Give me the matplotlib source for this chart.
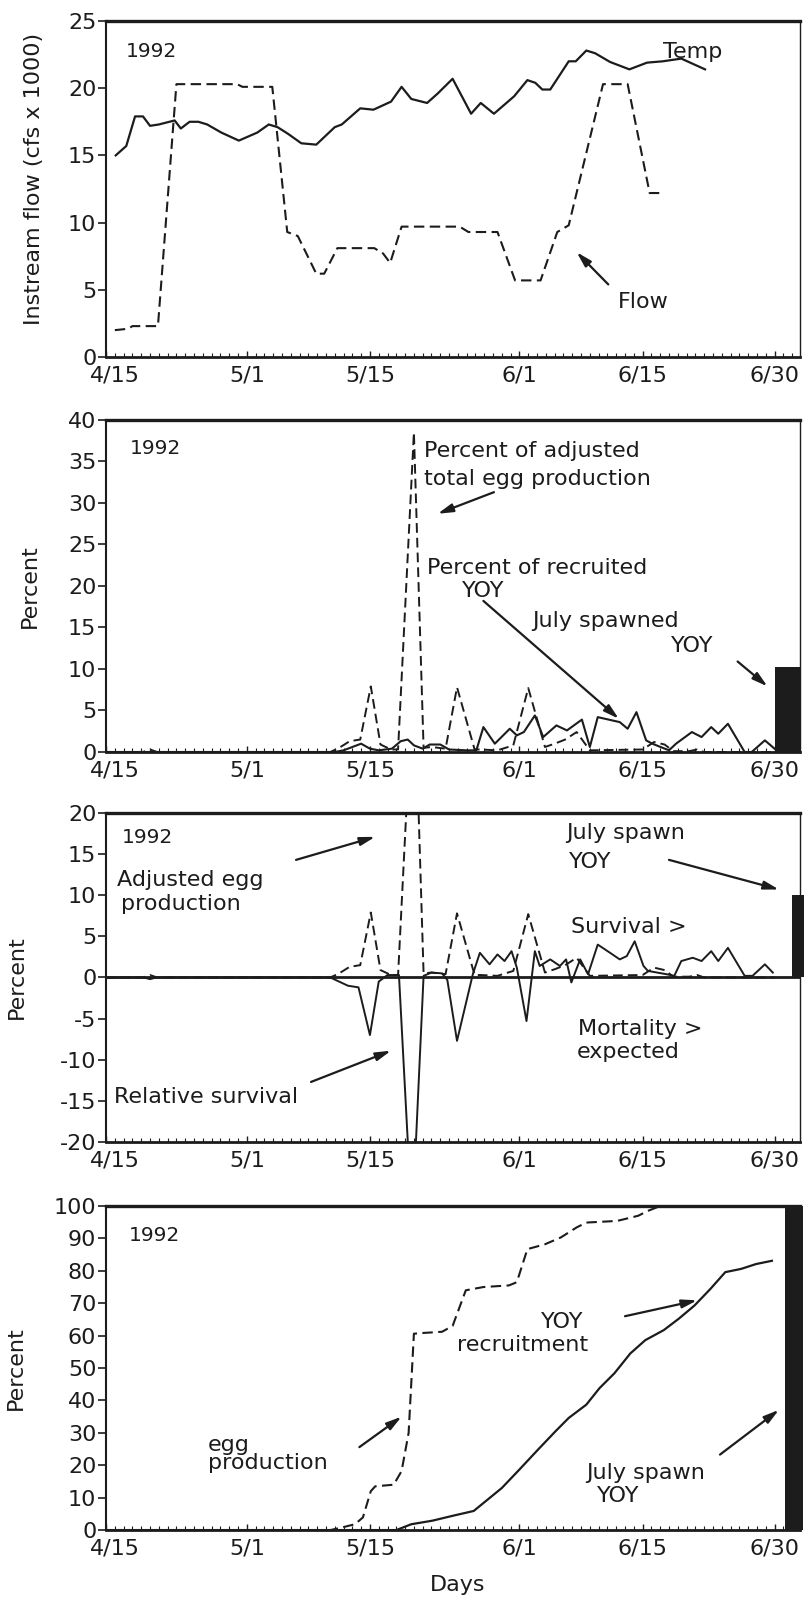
import matplotlib
matplotlib.use("Agg")
import matplotlib.pyplot as plt
from matplotlib.ticker import MultipleLocator
from matplotlib.transforms import ScaledTranslation

plt.rcParams["font.family"] = ["DejaVu Sans"]
plt.rcParams["axes.unicode_minus"] = False

# x positions are days after April 15, 1992
tick_days = [0, 16, 30, 47, 61, 76]
tick_labels = ["4/15", "5/1", "5/15", "6/1", "6/15", "6/30"]

# Panel 1: water temperature and instream flow (cfs x 1000)
temp_day = [1.1, 2.3, 3.3, 4.2, 5.0, 6.0, 7.8, 8.5, 9.5, 10.5, 11.5, 13.1, 15.1, 17.2, 18.5,
            19.5, 20.7, 22.2, 23.9, 26.0, 26.8, 28.9, 30.4, 32.4, 33.6, 34.7, 36.5, 37.7, 39.4,
            41.5, 42.6, 44.1, 46.4, 47.9, 48.8, 49.6, 50.5, 52.6, 53.4, 54.6, 55.6, 57.3, 59.5,
            61.5, 63.3, 65.4, 68.1]
temp_val = [15.0, 15.7, 17.9, 17.9, 17.2, 17.3, 17.6, 17.0, 17.5, 17.5, 17.3, 16.7, 16.1, 16.7, 17.3,
            17.1, 16.6, 15.9, 15.8, 17.1, 17.3, 18.5, 18.4, 19.0, 20.1, 19.2, 18.9, 19.6, 20.7,
            18.1, 18.9, 18.1, 19.4, 20.6, 20.4, 19.9, 19.9, 22.0, 22.0, 22.8, 22.6, 21.95, 21.4,
            21.9, 22.0, 22.2, 21.4]
flow_day = [1.0, 2.5, 3.0, 5.9, 8.0, 14.9, 15.5, 18.9, 20.6, 21.8, 23.9, 24.8, 26.3, 30.5, 31.5,
            32.3, 33.6, 40.2, 41.2, 44.5, 46.5, 49.4, 51.3, 52.6, 56.5, 59.3, 61.8, 63.3]
flow_val = [2.0, 2.1, 2.3, 2.3, 20.3, 20.3, 20.1, 20.1, 9.3, 9.0, 6.2, 6.2, 8.1, 8.1, 7.7,
            7.0, 9.7, 9.7, 9.3, 9.3, 5.7, 5.7, 9.3, 9.8, 20.3, 20.3, 12.2, 12.2]

# Panel 2/3: daily percent of adjusted total egg production
egg_day = [0, 4.2, 5.0, 5.8, 25.5, 26.5, 27.7, 28.9, 30.1, 31.2, 32.4, 33.2, 35.0, 36.1, 37.0,
           38.6, 39.9, 41.9, 42.6, 44.5, 46.3, 48.0, 49.9, 51.0, 52.2, 53.5, 55.0, 61.0, 62.3,
           63.5, 64.5, 66.3, 67.2, 68.0, 76.0]
egg_pct = [0, 0, 0.3, 0, 0, 0.5, 1.3, 1.5, 7.9, 0.9, 0.3, 0.3, 38.5, 0.5, 0.6,
           0.4, 7.8, 0.3, 0.3, 0.2, 0.8, 7.7, 0.6, 1.0, 1.5, 2.4, 0.2, 0.3, 1.2,
           0.9, 0.1, 0.1, 0.3, 0.0, 0.0]

# Panel 2: daily percent of recruited young-of-year
yoy_day = [0, 26.0, 27.0, 28.0, 29.0, 30.0, 31.0, 32.5, 33.5, 34.3, 35.0, 36.0, 36.8, 38.0, 39.0,
           41.0, 42.1, 42.9, 44.2, 45.9, 46.7, 47.5, 48.75, 49.7, 51.2, 52.4, 54.1, 55.0, 55.9,
           58.4, 59.3, 60.3, 61.4, 62.1, 64.0, 64.8, 66.6, 67.7, 68.8, 69.6, 70.7, 72.6, 73.4,
           74.9, 76.0]
yoy_pct = [0, 0, 0.2, 0.6, 1.0, 0.4, 0.2, 0.4, 1.3, 1.5, 0.8, 0.4, 0.9, 0.9, 0.3,
           0.2, 0.2, 3.0, 1.0, 2.8, 2.0, 2.4, 4.4, 1.8, 3.2, 2.6, 3.9, 0.6, 4.2,
           3.6, 2.8, 4.8, 1.4, 1.0, 0.2, 1.0, 2.4, 1.8, 3.0, 2.2, 3.4, 0.0, 0.0,
           1.4, 0.4]

# Panel 3: relative survival (percent)
surv_day = [0, 4.3, 5.0, 5.7, 25.5, 26.5, 27.5, 28.7, 30.0, 31.0, 32.0, 33.3, 34.8, 36.1, 37.0,
            38.2, 38.8, 39.9, 41.7, 42.5, 43.6, 44.5, 45.3, 46.1, 46.7, 47.8, 48.75, 49.3, 50.5,
            51.6, 52.3, 52.9, 53.9, 54.8, 55.9, 57.3, 58.4, 59.2, 60.1, 61.1, 61.6, 63.7, 64.6,
            65.4, 66.7, 67.7, 68.8, 69.6, 70.7, 72.6, 73.5, 74.9, 75.8]
surv_pct = [0, 0, -0.2, 0, 0, -0.5, -1.0, -1.2, -7.0, -0.5, 0.3, 0.3, -30.0, 0.2, 0.6,
            0.5, -0.3, -7.7, 0.4, 3.0, 1.6, 2.8, 2.0, 3.2, 1.2, -5.3, 3.2, 1.4, 2.2,
            1.4, 2.2, -0.6, 2.2, 0.4, 4.0, 3.0, 2.2, 2.6, 4.4, 1.4, 0.8, 0.4, 0.2,
            2.0, 2.4, 2.0, 3.2, 2.0, 3.6, 0.2, 0.2, 1.6, 0.6]

# July spawned YOY
july_pct = 10.2
july_rel = 10.0
july_cum = 100.0

# Panel 4: cumulative percent
cum_egg_day = [0, 25.5, 26.5, 28.3, 29.2, 30.1, 30.6, 32.7, 33.6, 34.4, 35.0, 35.9, 38.2, 39.4,
               40.9, 42.9, 45.8, 46.7, 47.9, 49.9, 51.7, 53.5, 54.6, 58.1, 60.5, 61.6, 63.0, 76.0]
cum_egg_pct = [0, 0, 0.6, 1.8, 3.9, 12.0, 13.5, 14.0, 18.2, 30.0, 60.6, 60.8, 61.2, 63.0,
               74.0, 75.0, 75.5, 76.5, 86.7, 88.2, 90.3, 93.4, 94.9, 95.4, 97.0, 98.5, 100.0, 100.0]
cum_yoy_day = [0, 33.0, 34.7, 37.1, 39.4, 41.8, 43.2, 45.0, 47.0, 49.1, 51.1, 52.6, 54.6, 56.1,
               57.8, 59.6, 61.3, 63.4, 65.1, 66.9, 68.7, 70.4, 72.2, 73.9, 75.7]
cum_yoy_pct = [0, 0, 1.8, 2.9, 4.4, 5.9, 9.0, 13.0, 18.7, 24.8, 30.5, 34.6, 38.7, 43.8,
               48.4, 54.5, 58.6, 61.7, 65.2, 69.3, 74.4, 79.6, 80.6, 82.1, 83.1]

INK = "#1c1c1c"
XMAX = 78.9
TICK_FS = 16
TEXT_FS = 16
DASH = (5, 2.6)

fig = plt.figure(figsize=(8.07, 16.01), dpi=100)
fig.patch.set_facecolor("white")

left, width = 0.1314, 0.860
ax1 = fig.add_axes([left, 0.7770, width, 0.2099])
ax2 = fig.add_axes([left, 0.5303, width, 0.2074])
ax3 = fig.add_axes([left, 0.2867, width, 0.2055])
ax4 = fig.add_axes([left, 0.0443, width, 0.2024])


def frame(ax, ylim, ystep, ylabel, label_x, label_y=0.5, label_fs=TEXT_FS):
    ax.set_xlim(0, XMAX)
    ax.set_ylim(*ylim)
    ax.set_xticks(tick_days)
    ax.set_xticklabels(tick_labels)
    ax.xaxis.set_minor_locator(MultipleLocator(1))
    ax.yaxis.set_major_locator(MultipleLocator(ystep))
    ax.tick_params(axis="y", direction="out", length=6, width=1.2, pad=1,
                   labelsize=TICK_FS, colors=INK)
    ax.tick_params(axis="x", which="major", direction="in", length=4, width=1.0, pad=6,
                   labelsize=TICK_FS, colors=INK)
    ax.tick_params(axis="x", which="minor", direction="in", length=3, width=0.8, colors=INK)
    # the first date label sits a little to the right of the corner
    first = ax.get_xticklabels()[0]
    first.set_transform(first.get_transform() + ScaledTranslation(0.09, 0, fig.dpi_scale_trans))
    for side, lw in (("top", 2.4), ("bottom", 2.0), ("left", 1.5), ("right", 1.0)):
        ax.spines[side].set_linewidth(lw)
        ax.spines[side].set_color(INK)
    ax.set_ylabel(ylabel, fontsize=label_fs, color=INK)
    ax.yaxis.set_label_coords(label_x, label_y)


def arrow(ax, tail, tip):
    ax.annotate("", xy=tip, xytext=tail,
                arrowprops=dict(arrowstyle="-|>,head_length=0.9,head_width=0.25",
                                lw=1.6, color=INK, shrinkA=0, shrinkB=0))


def label(ax, x, y, s, ha="left", fs=TEXT_FS):
    ax.text(x, y, s, ha=ha, va="center", fontsize=fs, color=INK)


# ---- Panel 1: temperature and flow
frame(ax1, (0, 25), 5, "Instream flow (cfs x 1000)", -0.09, 0.53)
ax1.plot(temp_day, temp_val, color=INK, lw=1.6)
ax1.plot(flow_day, flow_val, color=INK, lw=1.5, dashes=DASH)
label(ax1, 2.3, 22.7, "1992", fs=14.5)
label(ax1, 63.3, 22.7, "Temp")
label(ax1, 58.2, 4.1, "Flow")
arrow(ax1, (57.1, 5.4), (53.5, 7.8))

# ---- Panel 2: daily percentages
frame(ax2, (0, 40), 5, "Percent", -0.095)
ax2.plot(egg_day, egg_pct, color=INK, lw=1.4, dashes=DASH)
ax2.plot(yoy_day, yoy_pct, color=INK, lw=1.5)
ax2.bar(76.0, july_pct, width=XMAX - 76.0, align="edge", color=INK, lw=0)
label(ax2, 2.7, 36.5, "1992", fs=14.5)
label(ax2, 36.2, 36.3, "Percent of adjusted")
label(ax2, 36.2, 32.9, "total egg production")
arrow(ax2, (44.1, 31.3), (37.7, 28.7))
label(ax2, 36.5, 22.2, "Percent of recruited")
label(ax2, 42.9, 19.4, "YOY", ha="center")
arrow(ax2, (42.9, 18.2), (58.3, 4.0))
label(ax2, 48.5, 15.8, "July spawned")
label(ax2, 66.6, 12.8, "YOY", ha="center")
arrow(ax2, (71.8, 10.9), (75.2, 7.9))

# ---- Panel 3: relative survival
frame(ax3, (-20, 20), 5, "Percent", -0.114)
ax3.axhline(0, color=INK, lw=2.0)
ax3.plot(egg_day, egg_pct, color=INK, lw=1.4, dashes=DASH)
ax3.plot(surv_day, surv_pct, color=INK, lw=1.4)
ax3.bar(78.0, july_rel, width=XMAX - 78.0 + 0.4, align="edge", color=INK, lw=0, clip_on=False)
label(ax3, 1.8, 17.0, "1992", fs=14.5)
label(ax3, 1.2, 11.8, "Adjusted egg")
label(ax3, 1.7, 8.9, "production")
arrow(ax3, (21.6, 14.3), (30.6, 17.1))
label(ax3, 0.9, -14.5, "Relative survival")
arrow(ax3, (23.3, -12.7), (32.4, -8.9))
label(ax3, 52.3, 17.6, "July spawn")
label(ax3, 52.6, 14.1, "YOY")
arrow(ax3, (64.0, 14.3), (76.5, 10.7))
label(ax3, 52.9, 6.1, "Survival >")
label(ax3, 53.7, -6.3, "Mortality >")
label(ax3, 53.5, -9.1, "expected")

# ---- Panel 4: cumulative percentages
frame(ax4, (0, 100), 10, "Percent", -0.115)
ax4.plot(cum_egg_day, cum_egg_pct, color=INK, lw=1.5, dashes=DASH)
ax4.plot(cum_yoy_day, cum_yoy_pct, color=INK, lw=1.6)
ax4.bar(77.2, july_cum, width=XMAX - 77.2 + 0.3, align="edge", color=INK, lw=0, clip_on=False)
label(ax4, 2.6, 91.0, "1992", fs=14.5)
label(ax4, 54.3, 64.2, "YOY", ha="right")
label(ax4, 47.3, 57.0, "recruitment", ha="center")
arrow(ax4, (59.0, 66.0), (67.2, 70.9))
label(ax4, 11.6, 26.4, "egg")
label(ax4, 11.6, 20.8, "production")
arrow(ax4, (28.8, 25.6), (33.6, 35.0))
label(ax4, 54.6, 17.7, "July spawn")
label(ax4, 55.8, 10.5, "YOY")
arrow(ax4, (69.8, 23.3), (76.5, 37.1))
ax4.text(0.507, -0.17, "Days", transform=ax4.transAxes, ha="center", va="center",
         fontsize=TEXT_FS, color=INK)

fig.savefig("out.png", dpi=100, facecolor="white")
